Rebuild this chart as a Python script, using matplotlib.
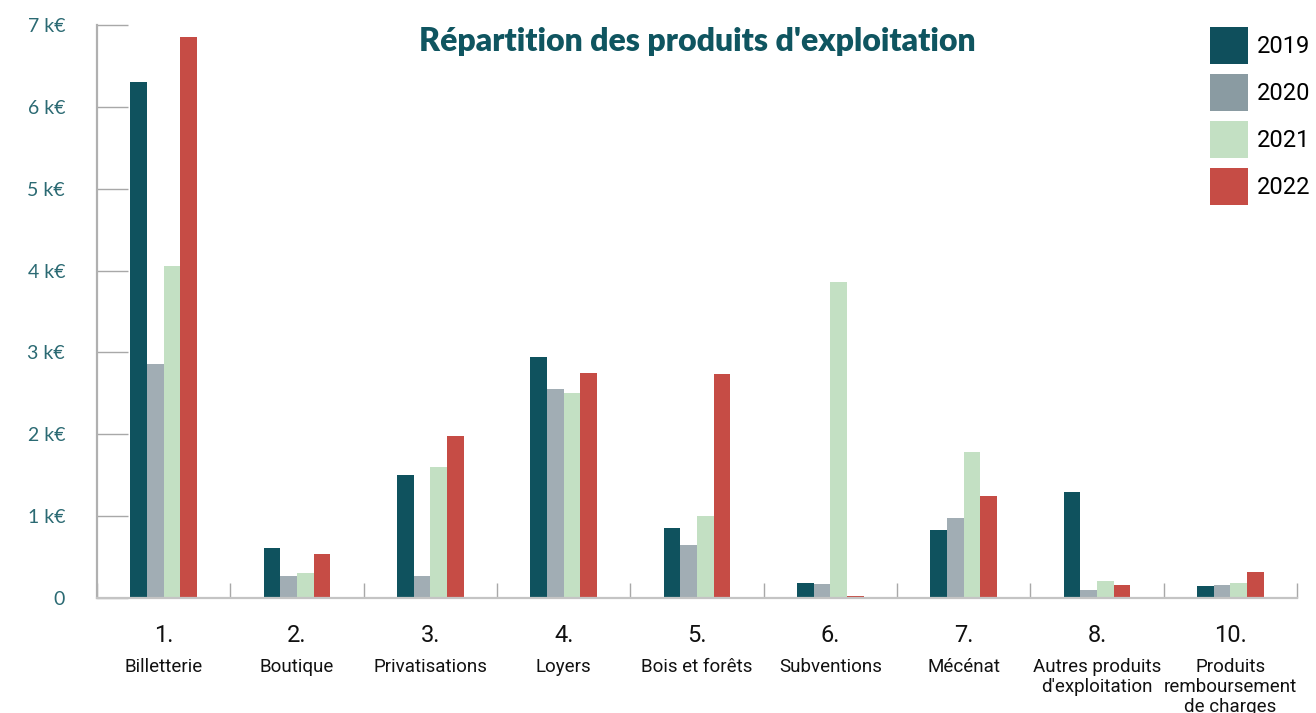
import matplotlib
matplotlib.use('Agg')
import matplotlib.pyplot as plt
from matplotlib.patches import Patch
import numpy as np

# données (k€)
numeros = ["1.", "2.", "3.", "4.", "5.", "6.", "7.", "8.", "10."]
categories = ["Billetterie", "Boutique", "Privatisations", "Loyers", "Bois et forêts",
              "Subventions", "Mécénat", "Autres produits\nd'exploitation",
              "Produits\nremboursement\nde charges"]
annees = ["2019", "2020", "2021", "2022"]
v2019 = [6.30, 0.61, 1.50, 2.94, 0.85, 0.18, 0.83, 1.29, 0.15]
v2020 = [2.86, 0.27, 0.27, 2.55, 0.65, 0.17, 0.98, 0.10, 0.16]
v2021 = [4.05, 0.31, 1.60, 2.50, 1.00, 3.86, 1.78, 0.21, 0.18]
v2022 = [6.85, 0.54, 1.98, 2.75, 2.74, 0.03, 1.25, 0.16, 0.32]
yticks = [0, 1, 2, 3, 4, 5, 6, 7]
ytick_labels = ["0", "1 k€", "2 k€", "3 k€", "4 k€", "5 k€", "6 k€", "7 k€"]

couleurs = ["#0f525e", "#a1adb4", "#c3e0c3", "#c64c45"]
couleurs_legende = ["#0f4f5c", "#8a9ba2", "#c3e0c3", "#c64c45"]
teal = "#0f5560"
gris = "#b0b0b0"
police_txt = ["Liberation Sans Narrow", "Roboto", "DejaVu Sans"]

fig = plt.figure(figsize=(13.16, 7.13), dpi=100)
ax = fig.add_axes([97 / 1316, 1 - 598 / 713, 1200 / 1316, 573 / 713])

x = np.arange(len(categories))
w = 0.125
series = [v2019, v2020, v2021, v2022]
for i, vals in enumerate(series):
    ax.bar(x + (i - 1.5) * w, vals, width=w, color=couleurs[i], zorder=2)

ax.set_xlim(-0.5, len(categories) - 0.5)
ax.set_ylim(0, 7)

# axes
for s in ["top", "right"]:
    ax.spines[s].set_visible(False)
ax.spines["left"].set_color(gris)
ax.spines["left"].set_linewidth(1.6)
ax.spines["bottom"].set_color("#c4c4c4")
ax.spines["bottom"].set_linewidth(1.6)

ax.set_yticks(yticks)
ax.set_yticklabels(ytick_labels, family=["Lato", "DejaVu Sans"], fontsize=14, color="#2b6a73")
ax.tick_params(axis="y", direction="in", length=22, width=1, color="#a8a8a8", pad=23)

ax.set_xticks([])
ax.set_xticks(np.arange(-0.5, len(categories)), minor=True)
ax.tick_params(axis="x", which="minor", direction="in", length=11, width=1, color="#a8a8a8")

# étiquettes des catégories
tr = ax.get_xaxis_transform()
for i in range(len(categories)):
    ax.text(x[i], -0.045, numeros[i], transform=tr, ha="center", va="top",
            fontsize=17, family=police_txt, color="#111111")
    ax.text(x[i], -0.105, categories[i], transform=tr, ha="center", va="top",
            fontsize=13.5, family=police_txt, color="#111111", linespacing=1.15)

# titre
fig.text(0.530, 0.942, "Répartition des produits d'exploitation", ha="center", va="center",
         fontsize=23, fontweight="heavy", family=["Lato", "DejaVu Sans"], color=teal)

# légende
handles = [Patch(facecolor=c, label=a) for c, a in zip(couleurs_legende, annees)]
fig.legend(handles=handles, loc="upper left", bbox_to_anchor=(1203 / 1316, 1 - 20 / 713),
           frameon=False, prop={"family": police_txt, "size": 17},
           handlelength=1.6, handleheight=2.0, labelspacing=0.45, handletextpad=0.4,
           borderaxespad=0, borderpad=0.3)

plt.savefig("out.png", dpi=100)
